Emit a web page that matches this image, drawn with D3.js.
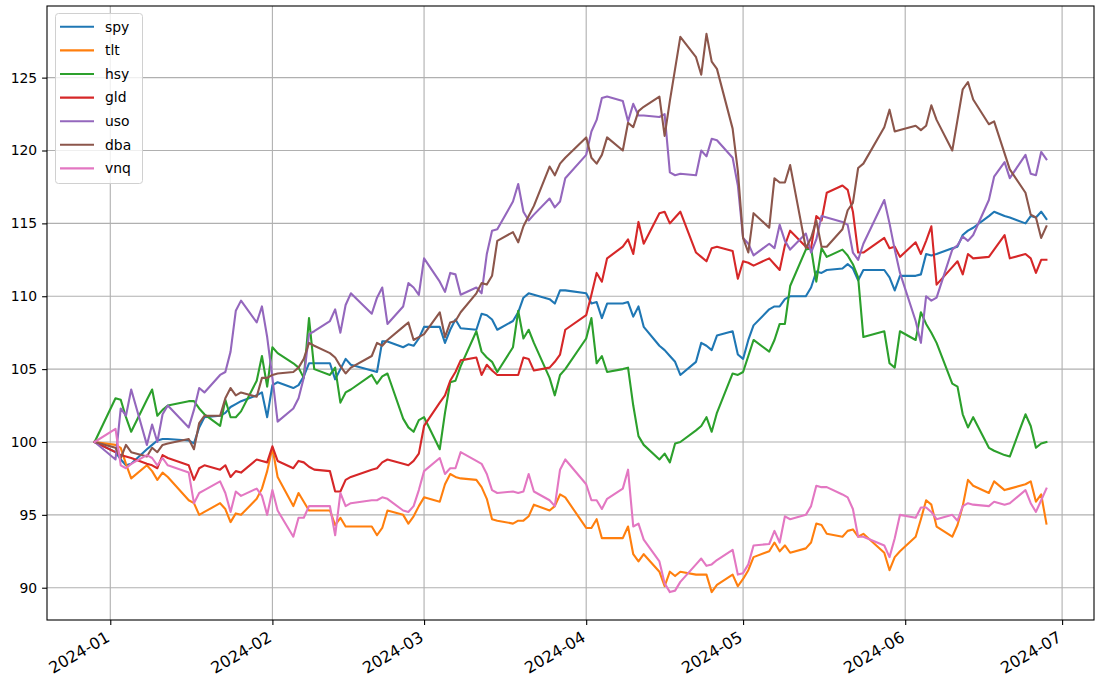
<!DOCTYPE html>
<html><head><meta charset="utf-8">
<script src="https://cdn.jsdelivr.net/npm/d3@7"></script>
<style>body{margin:0;background:#fff} svg{display:block} text{font-family:"DejaVu Sans",sans-serif;fill:#000}</style>
</head><body><svg id="c" width="1101" height="678"></svg>
<script>
// ---- data ----
const startDate = "2023-12-29", endDate = "2024-06-28";
const holidays = ["2024-01-01","2024-01-15","2024-02-19","2024-03-29","2024-05-27","2024-06-19"];
const xTickLabels = ["2024-01","2024-02","2024-03","2024-04","2024-05","2024-06","2024-07"];
const yTicks = [90,95,100,105,110,115,120,125];
const names = ["spy","tlt","hsy","gld","uso","dba","vnq"];
const colors = ["#1f77b4","#ff7f0e","#2ca02c","#d62728","#9467bd","#8c564b","#e377c2"];

const spy = [100,99.3,98.8,98.4,98.5,99.5,99.8,100.1,100.2,100.2,100.1,99.9,101.0,101.7,101.8,102.0,102.4,102.6,102.8,103.2,103.4,101.7,103.9,104.1,103.7,103.9,104.5,105.4,105.4,105.4,104.3,105.0,105.7,105.3,104.9,104.8,106.9,106.9,106.5,106.7,106.6,107.1,107.9,107.9,106.8,107.7,108.4,107.8,107.7,108.8,108.7,108.4,107.7,108.3,108.9,109.9,110.2,110.1,109.8,109.5,110.4,110.4,110.2,109.5,109.6,108.5,109.5,109.5,109.6,108.6,109.3,107.9,106.6,106.3,105.9,105.5,104.6,105.5,106.8,106.6,106.3,107.3,107.6,106.0,105.7,107.0,108.0,109.1,109.3,109.3,109.8,110.0,110.0,110.6,111.7,111.6,111.8,111.9,112.2,111.9,111.1,111.8,111.8,111.3,110.4,111.4,111.4,111.5,112.9,112.8,112.9,113.3,113.4,114.2,114.5,114.7,115.5,115.8,115.5,115.4,115.0,115.5,115.4,115.8,115.3];
const tlt = [100,99.8,99.6,98.5,97.5,98.4,98.0,97.4,97.9,97.6,96.0,95.8,95.0,95.2,95.8,95.4,94.5,95.1,95.0,96.1,96.8,98.0,99.6,97.6,95.6,96.5,95.9,95.3,95.3,95.3,94.3,94.8,94.2,94.2,94.2,93.6,94.1,95.3,95.0,94.4,94.9,95.6,96.2,95.9,97.1,97.8,97.6,97.5,97.4,96.9,96.1,94.7,94.6,94.4,94.6,94.6,94.9,95.7,95.3,95.6,96.4,96.2,94.1,94.1,94.7,93.4,93.4,93.4,94.2,92.3,91.8,92.3,91.1,90.1,91.1,90.8,91.1,90.9,90.9,90.9,89.7,90.2,90.9,90.1,90.6,91.2,92.1,92.5,93.1,92.5,92.9,92.4,92.7,93.1,94.4,94.3,93.7,93.5,93.9,94.0,93.5,93.7,92.4,91.2,92.1,92.5,93.5,94.7,96.0,95.7,94.2,93.5,94.3,95.6,97.4,97.0,96.5,97.3,96.7,96.8,97.1,97.3,95.9,96.4,94.4];
const hsy = [100,103.0,102.9,101.7,100.7,102.9,103.6,101.8,102.2,102.5,102.8,102.8,102.3,101.9,101.1,102.9,101.7,101.7,102.1,104.2,105.9,103.8,106.5,106.1,105.4,105.1,104.4,108.5,105.0,104.6,105.1,102.7,103.4,103.6,104.6,104.0,104.5,104.7,101.6,101.0,100.7,101.5,101.7,99.5,102.0,104.1,104.2,105.2,107.6,106.2,105.8,105.5,104.8,106.5,109.0,107.1,107.7,106.8,104.4,103.2,104.6,105.0,107.1,108.5,105.4,105.9,104.8,105.0,105.1,102.5,100.4,99.8,98.8,99.2,98.6,99.9,100.0,100.8,101.1,101.7,100.7,102.0,104.7,104.6,104.8,105.9,107.0,106.2,107.0,108.1,108.1,110.7,113.2,113.3,111.0,113.3,112.7,113.2,112.8,112.2,111.3,107.2,107.6,105.4,105.1,107.6,107.0,108.9,108.1,107.5,106.8,104.0,103.8,101.9,101.0,101.7,99.6,99.4,99.1,99.0,101.9,101.1,99.6,99.9,100.0];
const gld = [100,99.3,99.1,99.0,98.9,98.5,98.4,98.2,99.1,98.9,98.4,97.4,98.2,98.4,98.1,98.4,97.6,98.0,97.9,98.8,98.7,98.6,99.7,98.7,98.2,98.7,98.6,98.3,98.1,98.0,96.6,96.6,97.4,97.6,98.1,98.2,98.6,98.8,98.5,98.4,98.7,99.2,101.1,102.7,103.2,104.2,104.8,105.6,105.8,104.6,105.3,104.9,104.6,104.6,104.6,105.8,105.7,104.9,105.1,105.5,106.0,107.7,108.7,110.1,111.6,111.0,112.6,113.4,113.9,112.9,115.1,113.6,115.7,115.8,115.0,115.4,115.8,113.0,112.7,112.4,113.3,113.4,113.1,111.2,112.4,112.3,112.1,112.6,112.2,111.8,113.5,114.5,113.4,113.3,115.5,115.2,117.1,117.6,117.3,115.8,113.0,113.0,114.0,113.3,113.4,112.7,113.7,112.9,113.8,114.8,110.8,112.0,112.4,111.5,112.9,112.6,112.7,113.2,114.2,112.6,112.9,112.6,111.6,112.5,112.5];
const uso = [100,98.8,102.3,101.8,103.6,99.8,101.2,100.0,101.9,102.5,101.0,102.2,103.7,103.4,104.6,104.8,106.2,109.0,109.7,108.2,109.3,107.2,104.4,101.4,102.3,103.0,104.4,107.4,107.6,108.3,109.1,107.5,109.4,110.2,108.8,109.9,110.6,108.1,109.3,110.9,110.6,110.1,112.6,111.0,110.3,111.6,111.5,110.1,110.6,110.2,112.9,114.5,114.6,116.5,117.7,115.8,115.2,115.6,116.7,116.1,116.5,118.1,119.7,121.3,122.1,123.6,123.7,123.4,122.0,123.2,122.4,122.4,122.3,122.5,118.5,118.3,118.4,118.3,120.0,119.6,120.8,120.7,119.5,117.6,114.0,113.6,112.8,113.6,113.3,114.9,113.8,113.2,114.3,113.0,113.9,115.5,115.4,115.1,114.9,113.0,112.5,113.6,116.6,115.0,113.2,111.6,108.3,106.8,110.0,109.7,109.9,113.2,113.5,114.1,113.8,114.2,116.6,118.2,119.2,118.1,119.7,118.4,118.3,119.9,119.4];
const dba = [100,99.6,98.9,99.8,99.3,99.0,99.6,99.3,99.8,99.9,100.2,99.5,101.3,101.8,101.8,103.0,103.7,103.2,103.4,103.1,104.4,104.4,104.6,104.7,104.8,105.1,105.7,106.8,106.6,106.1,105.8,105.2,104.7,105.1,105.9,106.8,106.6,107.0,107.9,108.2,107.0,107.2,107.4,108.9,107.2,108.2,108.3,108.9,110.2,110.9,110.8,111.4,113.8,114.4,113.7,114.8,115.5,116.2,118.9,118.3,119.1,119.5,120.9,119.5,119.1,119.7,120.9,120.0,121.9,121.6,122.7,123.0,123.7,121.0,123.4,125.6,127.8,126.4,125.2,128.0,126.1,125.6,121.5,118.6,114.0,113.0,115.7,114.7,118.1,117.8,117.8,119.0,113.3,114.0,115.2,113.4,113.4,114.6,115.9,116.4,118.8,119.1,121.6,122.8,121.3,121.4,121.7,121.4,121.7,123.1,122.1,120.0,122.1,124.2,124.7,123.5,121.8,122.0,119.8,118.7,117.1,115.6,115.4,114.0,114.8];
const vnq = [100,100.9,98.4,98.2,98.5,99.1,98.9,98.4,98.9,98.4,97.9,95.8,96.5,96.7,97.3,96.5,95.2,96.6,96.3,96.8,96.3,95.0,96.7,95.3,93.5,94.8,94.8,95.6,95.6,95.6,93.6,96.5,95.6,95.8,96.0,96.0,96.2,96.1,95.3,95.2,95.6,96.7,98.0,98.9,97.8,98.2,98.2,99.3,98.7,98.5,97.8,96.7,96.5,96.6,96.5,96.6,97.8,96.6,96.0,95.6,98.1,98.8,97.1,96.0,96.0,95.4,96.1,96.8,98.1,94.2,94.4,93.3,91.8,90.3,89.7,89.8,90.4,91.6,92.0,91.5,91.6,91.9,92.6,90.9,91.0,91.6,92.9,93.0,93.9,93.1,94.9,94.7,95.0,95.6,97.0,96.9,96.9,96.4,96.2,95.4,93.5,93.5,92.9,92.1,93.4,95.0,94.8,95.5,95.5,95.2,94.7,95.0,94.6,95.6,95.8,95.7,95.6,95.9,95.7,95.8,96.7,95.8,95.2,96.0,96.8];
const seriesValues = [spy, tlt, hsy, gld, uso, dba, vnq];

// ---- build ----
const W = 1101, H = 678, L = 47, R = 1094, T = 6, B = 620;
const parse = d3.utcParse("%Y-%m-%d"), fmtDay = d3.utcFormat("%Y-%m-%d");
const dates = d3.utcDays(parse(startDate), d3.utcDay.offset(parse(endDate), 1))
  .filter(d => d.getUTCDay() % 6 !== 0 && !holidays.includes(fmtDay(d)));

const svg = d3.select("#c");
const t0 = +dates[0], t1 = +dates[dates.length - 1], span = t1 - t0;
const x = d3.scaleUtc().domain([new Date(t0 - 0.05 * span), new Date(t1 + 0.05 * span)]).range([L, R]);
const all = seriesValues.flat();
const vmin = d3.min(all), vmax = d3.max(all), vs = vmax - vmin;
const y = d3.scaleLinear().domain([vmin - 0.05 * vs, vmax + 0.05 * vs]).range([B, T]);
const xTickDates = xTickLabels.map(s => parse(s + "-01"));

// grid
const grid = svg.append("g").attr("stroke", "#b0b0b0").attr("stroke-width", 1.1);
grid.selectAll("line.gx").data(xTickDates).join("line")
  .attr("x1", d => x(d)).attr("x2", d => x(d)).attr("y1", T).attr("y2", B);
grid.selectAll("line.gy").data(yTicks).join("line")
  .attr("x1", L).attr("x2", R).attr("y1", d => y(d)).attr("y2", d => y(d));

// lines
svg.append("clipPath").attr("id", "clp").append("rect")
  .attr("x", L).attr("y", T).attr("width", R - L).attr("height", B - T);
const line = d3.line().x((d, i) => x(dates[i])).y(d => y(d));
svg.append("g").attr("clip-path", "url(#clp)").selectAll("path").data(seriesValues).join("path")
  .attr("d", d => line(d)).attr("fill", "none")
  .attr("stroke", (d, i) => colors[i]).attr("stroke-width", 2.1)
  .attr("stroke-linejoin", "round").attr("stroke-linecap", "square");

// axes
const xAxis = d3.axisBottom(x).tickValues(xTickDates).tickFormat((d, i) => xTickLabels[i]).tickSize(4.9).tickPadding(4);
const gx = svg.append("g").attr("transform", `translate(0,${B})`).call(xAxis);
gx.select(".domain").remove();
gx.selectAll(".tick line").attr("stroke", "#000").attr("stroke-width", 1.1);
gx.selectAll(".tick text").attr("font-size", 16).attr("font-family", "DejaVu Sans")
  .attr("text-anchor", "end").attr("dy", null).attr("y", null)
  .attr("transform", "translate(0,20.5) rotate(-30)");

const yAxis = d3.axisLeft(y).tickValues(yTicks).tickSize(4.9).tickPadding(4.9);
const gy = svg.append("g").attr("transform", `translate(${L},0)`).call(yAxis);
gy.select(".domain").remove();
gy.selectAll(".tick line").attr("stroke", "#000").attr("stroke-width", 1.1);
gy.selectAll(".tick text").attr("font-size", 13.9).attr("font-family", "DejaVu Sans");

// frame
svg.append("rect").attr("x", L).attr("y", T).attr("width", R - L).attr("height", B - T)
  .attr("fill", "none").attr("stroke", "#000").attr("stroke-width", 1.1);

// legend
const lg = svg.append("g");
lg.append("rect").attr("x", 55.5).attr("y", 13.5).attr("width", 87).attr("height", 170)
  .attr("rx", 3).attr("fill", "#fff").attr("fill-opacity", 0.8).attr("stroke", "#d0d0d0").attr("stroke-width", 1);
const items = lg.selectAll("g.it").data(names).join("g").attr("transform", (d, i) => `translate(0,${26.8 + i * 23.6})`);
items.append("line").attr("x1", 60).attr("x2", 94).attr("y1", 0).attr("y2", 0)
  .attr("stroke", (d, i) => colors[i]).attr("stroke-width", 2.1);
items.append("text").attr("x", 105).attr("y", 0).attr("dy", "0.35em").attr("font-size", 13.9).text(d => d);
</script>
</body></html>
